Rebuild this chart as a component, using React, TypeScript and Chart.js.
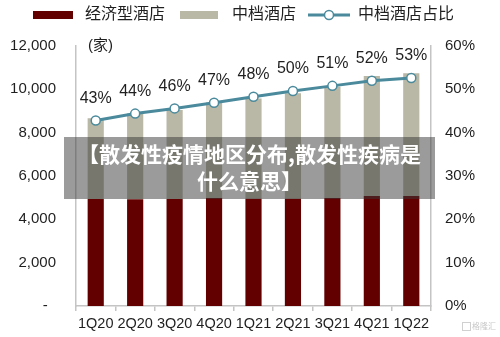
import React, { useEffect, useRef } from 'react';
import { Chart, registerables } from 'chart.js';

Chart.register(...registerables);

const categories = ['1Q20', '2Q20', '3Q20', '4Q20', '1Q21', '2Q21', '3Q21', '4Q21', '1Q22'];
const economyHotels = [4940, 4930, 4940, 4980, 4950, 4950, 4990, 5080, 5080];
const midscaleHotels = [3720, 3950, 4105, 4416, 4624, 4865, 5133, 5535, 5658];
const midscaleShare = [42.8, 44.4, 45.6, 46.9, 48.3, 49.6, 50.8, 52.0, 52.6];
const seriesNames = ['经济型酒店', '中档酒店', '中档酒店占比'];
const leftAxisTitle = '(家)';
const overlayTitleLine1 = '【散发性疫情地区分布,散发性疾病是';
const overlayTitleLine2 = '什么意思】';
const watermark = '格隆汇';

const DARK_RED = '#620000';
const KHAKI = '#b9b7a5';
const TEAL = '#4a8a9c';
const AXIS = '#c4c4c4';
const TEXT = '#1f1f1f';
const FONT = '"Liberation Sans", Arial, "Noto Sans CJK SC", sans-serif';

export default function App() {
  const ref = useRef<HTMLCanvasElement | null>(null);

  useEffect(() => {
    if (!ref.current) return;

    const extras = {
      id: 'extras',
      afterDatasetsDraw(chart: any) {
        const ctx = chart.ctx;
        ctx.save();
        const meta = chart.getDatasetMeta(2);
        ctx.font = `16px ${FONT}`;
        ctx.fillStyle = TEXT;
        ctx.textAlign = 'center';
        ctx.textBaseline = 'middle';
        meta.data.forEach((pt: any, i: number) => {
          ctx.fillText(Math.round(midscaleShare[i]) + '%', pt.x, pt.y - 22);
        });
        ctx.restore();
      },
      afterDraw(chart: any) {
        const ctx = chart.ctx;
        ctx.save();
        ctx.font = `15px ${FONT}`;
        ctx.fillStyle = TEXT;
        ctx.textAlign = 'left';
        ctx.textBaseline = 'middle';
        ctx.fillText(leftAxisTitle, 88, 46);

        const ly = 15;
        ctx.font = `16px ${FONT}`;
        ctx.fillStyle = DARK_RED;
        ctx.fillRect(33, 11, 40, 8);
        ctx.fillStyle = TEXT;
        ctx.fillText(seriesNames[0], 85, ly);
        ctx.fillStyle = KHAKI;
        ctx.fillRect(180, 11, 38, 8);
        ctx.fillStyle = TEXT;
        ctx.fillText(seriesNames[1], 232, ly);
        ctx.strokeStyle = TEAL;
        ctx.lineWidth = 3;
        ctx.beginPath();
        ctx.moveTo(308, ly);
        ctx.lineTo(350, ly);
        ctx.stroke();
        ctx.beginPath();
        ctx.arc(329, ly, 4.5, 0, Math.PI * 2);
        ctx.fillStyle = '#ffffff';
        ctx.fill();
        ctx.lineWidth = 1.5;
        ctx.stroke();
        ctx.fillStyle = TEXT;
        ctx.fillText(seriesNames[2], 358, ly);

        ctx.strokeStyle = '#d0d0d0';
        ctx.lineWidth = 1;
        ctx.strokeRect(462.5, 322.5, 8, 8);
        ctx.font = `8px ${FONT}`;
        ctx.fillStyle = '#c8c8c8';
        ctx.fillText(watermark, 472, 327);
        ctx.restore();
      },
    };

    const chart = new Chart(ref.current, {
      type: 'bar',
      data: {
        labels: categories,
        datasets: [
          {
            type: 'bar',
            label: seriesNames[0],
            data: economyHotels,
            backgroundColor: DARK_RED,
            yAxisID: 'y',
            order: 2,
            barPercentage: 0.41,
            categoryPercentage: 1,
          },
          {
            type: 'bar',
            label: seriesNames[1],
            data: midscaleHotels,
            backgroundColor: KHAKI,
            yAxisID: 'y',
            order: 2,
            barPercentage: 0.41,
            categoryPercentage: 1,
          },
          {
            type: 'line',
            label: seriesNames[2],
            data: midscaleShare,
            yAxisID: 'y1',
            order: 0,
            borderColor: TEAL,
            borderWidth: 3,
            pointRadius: 4.5,
            pointBorderWidth: 1.5,
            pointBackgroundColor: '#ffffff',
            pointBorderColor: TEAL,
            tension: 0,
          } as any,
        ],
      },
      options: {
        responsive: false,
        animation: false,
        layout: { padding: { top: 46, left: 0, right: 0, bottom: 0 } },
        plugins: {
          legend: { display: false },
          tooltip: { enabled: false },
        },
        scales: {
          x: {
            stacked: true,
            grid: {
              display: true,
              drawOnChartArea: false,
              drawTicks: true,
              tickLength: 5,
              color: AXIS,
              lineWidth: 1.5,
              offset: true,
            },
            border: { display: true, color: AXIS, width: 1.5 },
            ticks: { color: TEXT, font: { family: FONT, size: 14.5 }, padding: 4, maxRotation: 0, autoSkip: false },
            afterFit: (s: any) => { s.height = 31; },
          },
          y: {
            stacked: true,
            position: 'left',
            min: 0,
            max: 12000,
            grid: { display: false, drawTicks: false },
            border: { display: true, color: AXIS, width: 1.5 },
            ticks: {
              stepSize: 2000,
              padding: 20,
              color: TEXT,
              font: { family: FONT, size: 15 },
              callback: (v: any) => (Number(v) === 0 ? '-  ' : Number(v).toLocaleString('en-US')),
            },
            afterFit: (s: any) => { s.width = 76; },
          },
          y1: {
            stacked: false,
            position: 'right',
            min: 0,
            max: 60,
            grid: { display: false, drawTicks: false },
            border: { display: true, color: AXIS, width: 1.5 },
            ticks: {
              stepSize: 10,
              padding: 14,
              color: TEXT,
              font: { family: FONT, size: 15 },
              callback: (v: any) => v + '%',
            },
            afterFit: (s: any) => { s.width = 69; },
          },
        },
      } as any,
      plugins: [extras],
    });

    return () => chart.destroy();
  }, []);

  return (
    <div style={{ position: 'absolute', left: 0, top: 0, width: 500, height: 337, background: '#fff' }}>
      <canvas ref={ref} width={500} height={337} style={{ display: 'block' }} />
      <div
        style={{
          position: 'absolute',
          left: 64,
          top: 137,
          width: 371,
          height: 62,
          background: 'rgba(55,55,55,0.5)',
          color: '#ffffff',
          fontFamily: '"Noto Sans CJK SC", sans-serif',
          fontWeight: 700,
          fontSize: 21,
          lineHeight: '27px',
          textAlign: 'center',
          boxSizing: 'border-box',
          paddingTop: 3,
          whiteSpace: 'nowrap',
        }}
      >
        {overlayTitleLine1}
        <br />
        {overlayTitleLine2}
      </div>
    </div>
  );
}
